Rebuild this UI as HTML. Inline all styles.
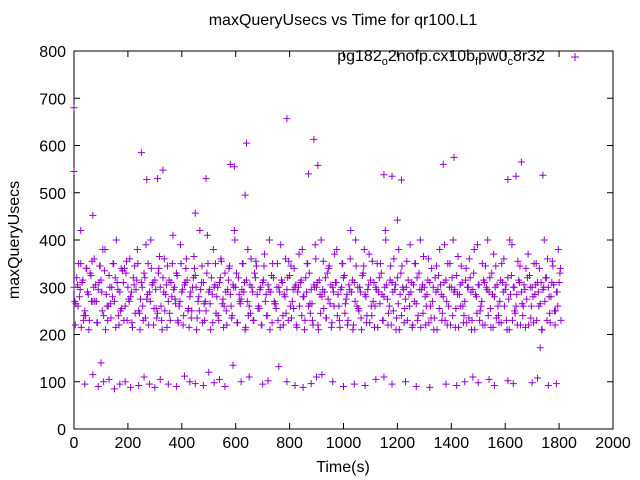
<!DOCTYPE html>
<html><head><meta charset="utf-8"><style>
body{margin:0;background:#fff}
svg{display:block;font-family:"Liberation Sans",sans-serif}
</style></head><body>
<svg id="c" width="640" height="480" viewBox="0 0 640 480">
<rect width="640" height="480" fill="#fff"/>
<text x="343" y="25" font-size="16" text-anchor="middle">maxQueryUsecs vs Time for qr100.L1</text>
<text x="343" y="472" font-size="16" text-anchor="middle">Time(s)</text>
<text x="19" y="240" font-size="16" text-anchor="middle" transform="rotate(-90 19 240)">maxQueryUsecs</text>
<g id="ax"></g>
<g id="pts"></g>
<g>
<text x="545" y="61" font-size="16" text-anchor="end">pg182<tspan font-size="11" dy="4">o</tspan><tspan dy="-4">2nofp.cx10b</tspan><tspan font-size="11" dy="4">f</tspan><tspan dy="-4">pw0</tspan><tspan font-size="11" dy="4">c</tspan><tspan dy="-4">8r32</tspan></text>
<path d="M571 57h8M575 53v8" stroke="#9400d3" stroke-width="1"/>
</g>
</svg>
<script>
const xTicks=[0,200,400,600,800,1000,1200,1400,1600,1800,2000];
const yTicks=[0,100,200,300,400,500,600,700,800];
const times=[0,10,20,30,40,50,60,70,80,90,100,110,120,130,140,150,160,170,180,190,200,210,220,230,240,250,260,270,280,290,300,310,320,330,340,350,360,370,380,390,400,410,420,430,440,450,460,470,480,490,500,510,520,530,540,550,560,570,580,590,600,610,620,630,640,650,660,670,680,690,700,710,720,730,740,750,760,770,780,790,800,810,820,830,840,850,860,870,880,890,900,910,920,930,940,950,960,970,980,990,1000,1010,1020,1030,1040,1050,1060,1070,1080,1090,1100,1110,1120,1130,1140,1150,1160,1170,1180,1190,1200,1210,1220,1230,1240,1250,1260,1270,1280,1290,1300,1310,1320,1330,1340,1350,1360,1370,1380,1390,1400,1410,1420,1430,1440,1450,1460,1470,1480,1490,1500,1510,1520,1530,1540,1550,1560,1570,1580,1590,1600,1610,1620,1630,1640,1650,1660,1670,1680,1690,1700,1710,1720,1730,1740,1750,1760,1770,1780,1790,1800];
const seriesA=[300,320,280,310,250,290,330,270,305,295,315,240,285,325,300,270,310,290,335,260,300,280,320,295,250,310,330,275,290,305,315,245,300,320,285,270,310,295,330,260,290,305,315,280,300,325,270,295,310,250,290,320,300,280,310,265,330,295,285,305,300,320,275,290,315,260,300,330,285,295,310,270,305,290,320,255,300,315,285,295,325,270,300,290,310,280,320,260,295,305,300,315,280,290,330,265,300,310,285,295,320,275,305,290,310,260,300,325,285,295,315,270,300,290,330,280,305,260,310,295,320,285,300,275,315,290,305,265,330,295,300,285,310,270,320,295,305,280,315,260,300,290,325,285,310,270,300,320,295,285,305,260,315,300,290,330,280,305,270,310,295,320,285,300,260,315,290,305,275,325,300,285,310,265,295,320,300,280,305,290,310];
const seriesB=[220,260,350,230,340,210,270,360,225,345,250,380,230,265,350,215,240,340,230,355,270,225,345,380,210,260,235,350,400,220,255,340,230,360,215,245,350,275,230,390,220,340,255,235,365,210,250,345,230,410,265,225,350,240,360,215,250,340,235,420,225,270,350,210,380,245,230,355,260,220,345,240,400,225,265,350,215,240,360,230,345,255,220,370,240,210,350,265,230,390,220,245,355,235,340,215,260,380,230,350,245,220,360,210,400,255,235,345,225,370,240,215,350,265,230,420,220,345,250,210,380,240,225,355,260,215,350,230,400,245,220,360,235,210,345,255,230,390,220,350,240,215,365,260,225,340,235,210,380,245,230,350,220,400,255,215,345,240,225,360,230,210,390,250,220,345,240,215,370,235,225,350,260,210,400,230,245,355,220,260,340];
const lowT=[40,70,90,100,110,130,150,170,190,210,240,260,280,300,320,350,380,410,430,450,480,500,520,540,560,590,620,650,700,720,760,790,820,850,880,900,920,960,1000,1040,1080,1120,1150,1180,1230,1270,1320,1380,1420,1450,1480,1500,1540,1560,1610,1630,1700,1720,1760,1790];
const lowV=[95,115,90,140,100,105,85,95,100,88,92,110,95,88,105,95,90,112,100,96,92,120,98,105,90,135,100,110,95,102,132,100,92,88,96,110,115,100,90,95,92,105,110,95,100,90,88,95,92,100,110,98,105,92,102,96,98,108,92,96];
const outT=[0,0,250,270,310,330,490,580,595,640,635,790,870,890,905,1150,1180,1215,1370,1410,1610,1640,1660,1740,1730,25,70,450,1200];
const outV=[545,680,585,528,530,548,530,560,555,605,495,657,540,613,558,538,535,527,560,575,528,535,565,537,172,420,452,457,442];
const X=t=>74+t*539/2000, Y=v=>429-v*378/800;
const NS="http://www.w3.org/2000/svg";
const ax=document.getElementById('ax'), pts=document.getElementById('pts');
function mk(p,tag,a){const e=document.createElementNS(NS,tag);for(const k in a)e.setAttribute(k,a[k]);p.appendChild(e);return e;}
const fr=mk(ax,'rect',{x:74,y:51,width:539,height:378,fill:'none',stroke:'#000'});


xTicks.forEach(t=>{const x=X(t);
 const l=mk(ax,'path',{d:`M${x} 429v-6M${x} 51v6`,stroke:'#000'});
 
 
 const tx=mk(ax,'text',{x:x,y:448,'font-size':16,'text-anchor':'middle'});tx.textContent=t;
 
 });
yTicks.forEach(v=>{const y=Y(v);
 const l=mk(ax,'path',{d:`M74 ${y}h6M613 ${y}h-6`,stroke:'#000'});
 
 
 const tx=mk(ax,'text',{x:66,y:y+6,'font-size':16,'text-anchor':'end'});tx.textContent=v;
 
 });
function plus(t,v){const x=X(t),y=Y(v);
 const p=mk(pts,'path',{d:`M${x-3.5} ${y}h7M${x} ${y-3.5}v7`,stroke:'#9400d3','stroke-width':1});
 
 }
times.forEach((t,i)=>{plus(t,seriesA[i]);plus(t+5,seriesB[i]);plus(t+3,seriesA[(i+7)%seriesA.length]);plus(t+7,seriesB[(i+13)%seriesB.length]);});
lowT.forEach((t,i)=>plus(t,lowV[i]));
outT.forEach((t,i)=>plus(t,outV[i]));
</script>
</body></html>
